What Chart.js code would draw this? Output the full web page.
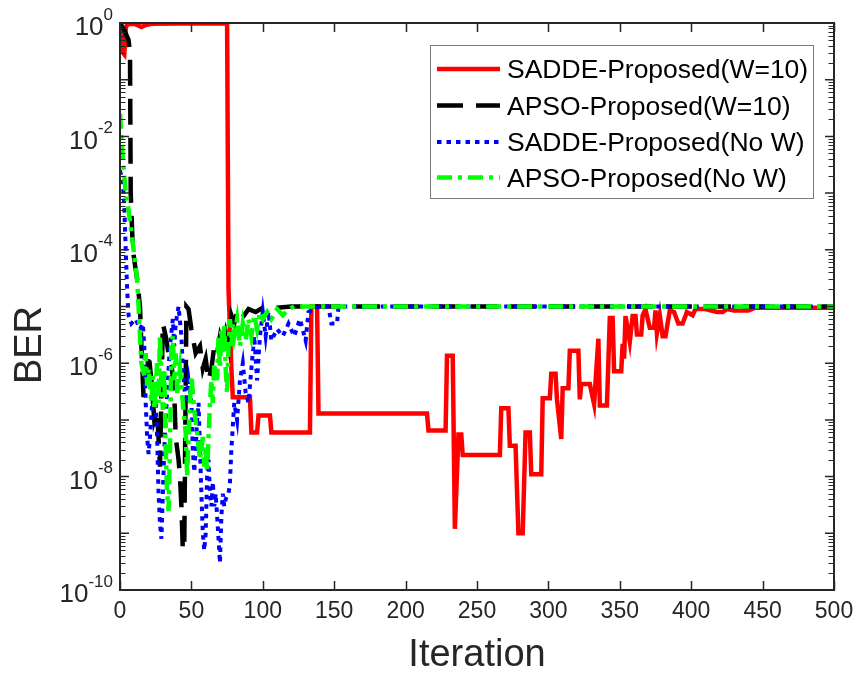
<!DOCTYPE html>
<html><head><meta charset="utf-8">
<script src="https://cdn.jsdelivr.net/npm/chart.js@4/dist/chart.umd.min.js"></script>
<style>html,body{margin:0;padding:0;background:#fff;}canvas{display:block;}</style>
</head><body>
<canvas id="c" width="854" height="675"></canvas>
<script>
// ---- labels ----
const seriesLabels = ['SADDE-Proposed(W=10)','APSO-Proposed(W=10)','SADDE-Proposed(No W)','APSO-Proposed(No W)'];
const xTitle = 'Iteration';
const yTitle = 'BER';
const xTicks = [0,50,100,150,200,250,300,350,400,450,500];
const yMajorExps = [0,-1,-2,-3,-4,-5,-6,-7,-8,-9,-10];
const yLabelExps = [0,-2,-4,-6,-8,-10];

// ---- SADDE-Proposed(W=10) ----
const redX = [0,1,2,3,4,5,10,15,18,22,40,75,76,77,78,79,91,92,96,97,105,106,133,134,138,139,215,216,228,229,233,234.5,237,239,240,266,267,272,273,277,279,282,284,287,288,295,296,301,302,305,306,309,310,314,315,321,322,323,329,332,335,336,341,343,345,346,351,352,353,354,357,359,361,362,365,366,368,371,374,375,376,378,380,382,385,388,391,394,397,401,403,410,418,422,425,430,440,445,500];
const redY = [0.95,0.5,0.3,0.28,0.8,0.95,0.97,0.85,0.92,0.97,0.98,0.98,2e-5,4e-6,8e-7,2.5e-7,2.5e-7,6e-8,6e-8,1.2e-7,1.2e-7,6e-8,6e-8,1e-5,1e-5,1.3e-7,1.3e-7,6.5e-8,6.5e-8,1.35e-6,1.35e-6,1.2e-9,5.5e-8,5.5e-8,2.4e-8,2.4e-8,1.6e-7,1.6e-7,3.5e-8,3.5e-8,1e-9,1e-9,6e-8,6e-8,1.1e-8,1.1e-8,2.4e-7,2.4e-7,6.5e-7,6.5e-7,2.3e-7,4.6e-8,3.6e-7,3.6e-7,1.65e-6,1.65e-6,2.3e-7,4.3e-7,4.3e-7,1.9e-7,2.7e-6,1.8e-7,1.8e-7,6.3e-6,6.3e-6,7.2e-7,7.2e-7,2.2e-6,1.2e-6,6.8e-6,2.4e-6,6.8e-6,6.8e-6,3.2e-6,3.2e-6,7e-6,8.9e-6,4.2e-6,4.2e-6,8.5e-6,3.4e-6,7e-6,3e-6,3e-6,8.5e-6,8e-6,5e-6,5e-6,8e-6,7e-6,9e-6,9e-6,8e-6,8e-6,9e-6,8.5e-6,8.5e-6,9.5e-6,9.5e-6];

// ---- APSO-Proposed(W=10) ----
const blackX = [0,3,6,7,7.5,9,12,14,15,16.5,18,20,22,24,26,28,30,32,34,36,38,39,41,42,43,44,45,46.5,48,50,53,56,58,60,62,64,66,68,70,72,74,76,78,80,82,85,90,95,100,110,120,500];
const blackY = [1,0.75,0.5,0.3,1e-3,1e-4,3e-5,1e-5,2e-6,2.5e-7,3e-7,1.5e-6,5e-7,1e-7,1.5e-7,1.5e-8,5e-6,3e-6,1.5e-6,1e-6,3e-7,5e-8,2e-8,1e-8,3e-9,5e-10,6e-10,1e-5,9e-6,4e-6,1.5e-6,2e-6,8e-7,1.2e-6,5e-7,8e-7,2e-6,1.5e-6,3e-6,2e-6,3.5e-6,2e-6,7e-6,5e-6,8e-6,6e-6,9e-6,8e-6,9.5e-6,9.5e-6,1e-5,1e-5];

// ---- SADDE-Proposed(No W) ----
const blueX = [0,2,3,4,5,6,8,11,14,16,17,18,19,20,21,23,25,26,27,28,29,30,31,33,35,37,38,39,41,43,44,46,48,50,51,52,53,54,55,56,57,58,59,60,61,62,63,64,65,66,67,68,69,70,71,72,73,74,76,77,78,80,82,84,86,88,90,92,94,96,98,100,102,104,106,110,114,118,122,126,130,132,136,140,146,148,152,153,500];
const blueY = [2.5e-3,1.5e-3,6e-4,1e-4,2e-5,7e-6,5e-6,6e-6,4e-6,5e-6,2e-6,2e-7,5e-8,2.5e-8,5e-8,3e-7,2e-7,5e-8,5e-9,1.5e-9,8e-10,5e-9,3e-8,3e-7,2e-6,6e-6,2e-6,5e-6,1e-5,3e-6,8e-7,2e-7,5e-7,2e-7,3e-8,1.2e-8,3e-8,1e-7,2e-7,3e-8,5e-9,1e-9,5e-10,1e-9,1e-8,2e-8,5e-9,3e-9,8e-9,3e-9,5e-9,2e-9,8e-10,3e-10,2e-9,5e-9,3e-9,4e-9,5e-9,8e-9,3e-8,2e-7,1e-7,5e-7,1e-6,3e-7,2e-7,8e-7,3e-6,5e-7,3e-6,8e-6,3e-6,8e-6,2.5e-6,4e-6,3e-6,5e-6,3e-6,6e-6,2.5e-6,8e-6,9e-6,1e-5,1e-5,5e-6,5e-6,1e-5,1e-5];

// ---- APSO-Proposed(No W) ----
const greenX = [0,1,2,4,6,8,10,12,13,14,15,17,18,19,20,22,23,24,26,27,28,29,30,31,32,33,34,35,36,37,38,39,40,42,44,46,47,48,49,50,52,54,56,58,59,60,61,62,63,64,65,66,68,69,70,71,72,73,74,75,76,77,78,79,80,82,84,86,88,90,92,94,96,98,100,103,106,110,114,118,122,500];
const greenY = [2.5e-2,1e-2,4e-3,1e-3,5e-4,2e-4,8e-5,3e-5,1e-5,3e-6,1e-6,6e-7,1.5e-6,4e-7,8e-7,2e-7,6e-7,1.5e-7,1e-6,2e-7,3e-6,5e-7,1.5e-7,8e-7,3e-8,5e-9,2.5e-9,3e-8,2e-6,3e-6,5e-7,1.5e-6,3e-7,8e-7,2e-7,6e-8,1e-8,5e-8,2e-7,6e-7,1.5e-7,6e-8,2e-8,5e-8,1.5e-8,3e-8,1.2e-8,5e-8,2e-7,5e-7,2e-7,1e-6,5e-7,3e-6,8e-7,4e-6,1.5e-6,5e-6,8e-7,3e-7,2e-6,6e-6,2e-6,5e-6,3e-6,6e-6,2e-6,5e-6,2.5e-6,6e-6,3e-6,7e-6,4e-6,8e-6,6e-6,8e-6,6e-6,9e-6,7e-6,9e-6,1e-5,1e-5];

const toPts = (xs, ys) => xs.map((v, i) => ({x: v, y: ys[i]}));

const COLORS = ['#ff0000', '#000000', '#0000ff', '#00ff00'];
const DASHES = [[], [26, 13], [4.5, 5], [15, 6, 4, 6]];
const WIDTHS = [4.5, 4.5, 4, 4.5];
const AXIS = '#262626';
const FONT = '"Liberation Sans", Arial, sans-serif';

const datasets = [
  {data: toPts(redX, redY), order: 4},
  {data: toPts(blackX, blackY), order: 3},
  {data: toPts(blueX, blueY), order: 2},
  {data: toPts(greenX, greenY), order: 1}
].map((d, i) => Object.assign(d, {
  label: seriesLabels[i], borderColor: COLORS[i], backgroundColor: COLORS[i],
  borderWidth: WIDTHS[i], borderDash: DASHES[i], pointRadius: 0, tension: 0,
  fill: false, borderCapStyle: 'butt', borderJoinStyle: 'miter'
}));

const frame = {
  id: 'frame',
  afterDatasetsDraw(chart) {
    const {ctx, chartArea: a, scales: {x, y}} = chart;
    ctx.save();
    // ticks
    ctx.strokeStyle = AXIS;
    ctx.lineWidth = 1.5;
    ctx.beginPath();
    xTicks.forEach(v => {
      const px = Math.round(x.getPixelForValue(v)) + 0.5;
      ctx.moveTo(px, a.bottom); ctx.lineTo(px, a.bottom - 9);
      ctx.moveTo(px, a.top); ctx.lineTo(px, a.top + 9);
    });
    yMajorExps.forEach(e => {
      const py = y.getPixelForValue(Math.pow(10, e));
      ctx.moveTo(a.left, py); ctx.lineTo(a.left + 9, py);
      ctx.moveTo(a.right, py); ctx.lineTo(a.right - 9, py);
    });
    ctx.stroke();
    ctx.lineWidth = 1;
    ctx.beginPath();
    for (let e = -10; e < 0; e++) {
      for (let m = 2; m <= 9; m++) {
        const py = Math.round(y.getPixelForValue(m * Math.pow(10, e))) + 0.5;
        ctx.moveTo(a.left, py); ctx.lineTo(a.left + 5.5, py);
        ctx.moveTo(a.right, py); ctx.lineTo(a.right - 5.5, py);
      }
    }
    ctx.stroke();
    // box
    ctx.lineWidth = 2;
    ctx.strokeRect(a.left, a.top, a.right - a.left, a.bottom - a.top);

    // tick labels
    ctx.fillStyle = AXIS;
    ctx.textBaseline = 'middle';
    ctx.textAlign = 'center';
    ctx.font = '23px ' + FONT;
    xTicks.forEach(v => {
      ctx.fillText(String(v), x.getPixelForValue(v), a.bottom + 22);
    });
    yLabelExps.forEach(e => {
      const py = y.getPixelForValue(Math.pow(10, e));
      const sup = String(e);
      ctx.font = '17px ' + FONT;
      ctx.textAlign = 'right';
      const rx = a.left - 7;
      ctx.fillText(sup, rx, py - 8);
      const sw = ctx.measureText(sup).width;
      ctx.font = '26px ' + FONT;
      ctx.fillText('10', rx - sw, py + 5);
    });
    // axis titles
    ctx.textAlign = 'center';
    ctx.font = '38px ' + FONT;
    ctx.fillText(xTitle, (a.left + a.right) / 2, 656);
    ctx.save();
    ctx.translate(31, 345);
    ctx.rotate(-Math.PI / 2);
    ctx.fillText(yTitle, 0, 0);
    ctx.restore();

    // legend
    const L = {left: 430, top: 45, right: 813, bottom: 198};
    ctx.fillStyle = '#ffffff';
    ctx.fillRect(L.left, L.top, L.right - L.left, L.bottom - L.top);
    ctx.strokeStyle = '#7a7a7a';
    ctx.lineWidth = 1;
    ctx.strokeRect(L.left + 0.5, L.top + 0.5, L.right - L.left, L.bottom - L.top);
    const rows = [69, 105.5, 142, 177.5];
    chart.data.datasets.forEach((ds, i) => {
      const ry = rows[i];
      ctx.save();
      ctx.strokeStyle = ds.borderColor;
      ctx.lineWidth = ds.borderWidth;
      ctx.setLineDash(ds.borderDash);
      ctx.beginPath();
      ctx.moveTo(437, ry); ctx.lineTo(500, ry);
      ctx.stroke();
      ctx.restore();
      ctx.fillStyle = '#000000';
      ctx.textAlign = 'left';
      ctx.font = '26.5px ' + FONT;
      ctx.fillText(ds.label, 507, ry + 2);
    });
    ctx.restore();
  }
};

new Chart(document.getElementById('c'), {
  type: 'line',
  data: {datasets},
  options: {
    responsive: false,
    animation: false,
    layout: {padding: {left: 120, right: 20, top: 23, bottom: 85}},
    plugins: {legend: {display: false}, tooltip: {enabled: false}},
    scales: {
      x: {type: 'linear', min: 0, max: 500, display: false},
      y: {type: 'logarithmic', min: 1e-10, max: 1, display: false}
    }
  },
  plugins: [frame]
});
</script>
</body></html>
